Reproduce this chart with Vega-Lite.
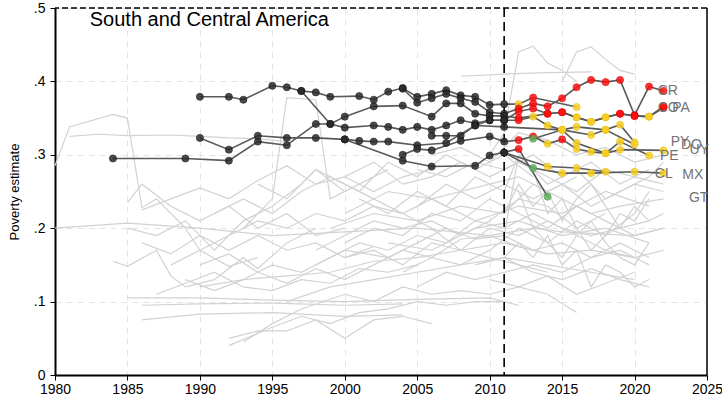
{
  "$schema": "https://vega.github.io/schema/vega-lite/v6.json",
  "width": 652,
  "height": 367,
  "autosize": {"type": "none"},
  "padding": {"left": 55, "top": 8, "right": 15, "bottom": 25},
  "background": "white",
  "config": {
    "view": {"stroke": null},
    "font": "Liberation Sans",
    "axis": {
      "labelFont": "Liberation Sans", "labelFontSize": 14, "labelColor": "black",
      "titleFont": "Liberation Sans", "titleFontWeight": "normal", "titleFontSize": 13, "titleColor": "black",
      "grid": true, "gridColor": "#e4e4e4", "gridDash": [6, 5], "gridWidth": 1,
      "domainColor": "black", "domainWidth": 2, "tickColor": "black", "tickSize": 5, "tickWidth": 1
    }
  },
  "datasets": {
    "grey": [
      {"c":"g1","yr":1980,"v":0.285},{"c":"g1","yr":1981,"v":0.338},{"c":"g1","yr":1984,"v":0.355},{"c":"g1","yr":1985,"v":0.35},{"c":"g1","yr":1986,"v":0.228},{"c":"g1","yr":1987,"v":0.24},{"c":"g1","yr":1989,"v":0.2},{"c":"g1","yr":1990,"v":0.17},{"c":"g1","yr":1992,"v":0.148},{"c":"g1","yr":1994,"v":0.16},
      {"c":"g2","yr":1980,"v":0.2},{"c":"g2","yr":1985,"v":0.207},{"c":"g2","yr":1990,"v":0.2},{"c":"g2","yr":1995,"v":0.19},{"c":"g2","yr":2000,"v":0.195},{"c":"g2","yr":2005,"v":0.2},{"c":"g2","yr":2010,"v":0.19},{"c":"g2","yr":2013,"v":0.2},{"c":"g2","yr":2015,"v":0.195},{"c":"g2","yr":2020,"v":0.19},{"c":"g2","yr":2022,"v":0.2},
      {"c":"g3","yr":1981,"v":0.325},{"c":"g3","yr":1983,"v":0.328},{"c":"g3","yr":1985,"v":0.326},{"c":"g3","yr":1988,"v":0.327},{"c":"g3","yr":1990,"v":0.325},{"c":"g3","yr":1992,"v":0.323},{"c":"g3","yr":1994,"v":0.322},{"c":"g3","yr":1996,"v":0.318},
      {"c":"g4","yr":1984,"v":0.155},{"c":"g4","yr":1985,"v":0.148},{"c":"g4","yr":1987,"v":0.17},{"c":"g4","yr":1988,"v":0.135},{"c":"g4","yr":1989,"v":0.12},{"c":"g4","yr":1991,"v":0.13},{"c":"g4","yr":1993,"v":0.16},{"c":"g4","yr":1994,"v":0.145},{"c":"g4","yr":1996,"v":0.18},{"c":"g4","yr":1998,"v":0.2},
      {"c":"g5","yr":1985,"v":0.2},{"c":"g5","yr":1987,"v":0.19},{"c":"g5","yr":1989,"v":0.21},{"c":"g5","yr":1991,"v":0.17},{"c":"g5","yr":1993,"v":0.21},{"c":"g5","yr":1995,"v":0.23},{"c":"g5","yr":1997,"v":0.26},{"c":"g5","yr":1998,"v":0.28},{"c":"g5","yr":2000,"v":0.25},
      {"c":"g6","yr":1985,"v":0.105},{"c":"g6","yr":1990,"v":0.105},{"c":"g6","yr":1995,"v":0.102},{"c":"g6","yr":2000,"v":0.1},{"c":"g6","yr":2005,"v":0.103},{"c":"g6","yr":2010,"v":0.105},{"c":"g6","yr":2012,"v":0.095},
      {"c":"g7","yr":1986,"v":0.095},{"c":"g7","yr":1990,"v":0.097},{"c":"g7","yr":1995,"v":0.098},{"c":"g7","yr":2000,"v":0.095},{"c":"g7","yr":2004,"v":0.097},
      {"c":"g8","yr":1986,"v":0.075},{"c":"g8","yr":1990,"v":0.083},{"c":"g8","yr":1995,"v":0.085},{"c":"g8","yr":2000,"v":0.08},{"c":"g8","yr":2004,"v":0.082},
      {"c":"g9","yr":1992,"v":0.04},{"c":"g9","yr":1995,"v":0.065},{"c":"g9","yr":1997,"v":0.08},{"c":"g9","yr":1999,"v":0.07},{"c":"g9","yr":2001,"v":0.085},{"c":"g9","yr":2003,"v":0.09},{"c":"g9","yr":2005,"v":0.1},{"c":"g9","yr":2007,"v":0.095},{"c":"g9","yr":2009,"v":0.1},{"c":"g9","yr":2011,"v":0.1},
      {"c":"g10","yr":1992,"v":0.05},{"c":"g10","yr":1994,"v":0.06},{"c":"g10","yr":1996,"v":0.06},{"c":"g10","yr":1998,"v":0.075},{"c":"g10","yr":2000,"v":0.05},{"c":"g10","yr":2002,"v":0.075},{"c":"g10","yr":2004,"v":0.08},{"c":"g10","yr":2006,"v":0.07},
      {"c":"g11","yr":1993,"v":0.045},{"c":"g11","yr":1995,"v":0.07},{"c":"g11","yr":1997,"v":0.09},{"c":"g11","yr":2000,"v":0.11},{"c":"g11","yr":2002,"v":0.1},{"c":"g11","yr":2004,"v":0.12},{"c":"g11","yr":2006,"v":0.11},{"c":"g11","yr":2008,"v":0.115},{"c":"g11","yr":2010,"v":0.11},{"c":"g11","yr":2012,"v":0.12},{"c":"g11","yr":2014,"v":0.11},{"c":"g11","yr":2016,"v":0.085},
      {"c":"g12","yr":1990,"v":0.15},{"c":"g12","yr":1992,"v":0.165},{"c":"g12","yr":1994,"v":0.14},{"c":"g12","yr":1996,"v":0.125},{"c":"g12","yr":1998,"v":0.145},{"c":"g12","yr":2000,"v":0.13},{"c":"g12","yr":2002,"v":0.15},{"c":"g12","yr":2004,"v":0.17},{"c":"g12","yr":2006,"v":0.16},{"c":"g12","yr":2008,"v":0.185},{"c":"g12","yr":2010,"v":0.19},{"c":"g12","yr":2012,"v":0.175},{"c":"g12","yr":2014,"v":0.165},
      {"c":"g13","yr":1986,"v":0.225},{"c":"g13","yr":1988,"v":0.24},{"c":"g13","yr":1990,"v":0.255},{"c":"g13","yr":1992,"v":0.24},{"c":"g13","yr":1994,"v":0.265},{"c":"g13","yr":1996,"v":0.285},{"c":"g13","yr":1998,"v":0.26},{"c":"g13","yr":2000,"v":0.27},{"c":"g13","yr":2002,"v":0.25},{"c":"g13","yr":2004,"v":0.27},{"c":"g13","yr":2006,"v":0.28},
      {"c":"g14","yr":1988,"v":0.15},{"c":"g14","yr":1990,"v":0.17},{"c":"g14","yr":1992,"v":0.19},{"c":"g14","yr":1994,"v":0.21},{"c":"g14","yr":1996,"v":0.2},{"c":"g14","yr":1998,"v":0.22},{"c":"g14","yr":2000,"v":0.21},{"c":"g14","yr":2002,"v":0.23},{"c":"g14","yr":2004,"v":0.22},{"c":"g14","yr":2006,"v":0.24},{"c":"g14","yr":2008,"v":0.25},{"c":"g14","yr":2010,"v":0.26},{"c":"g14","yr":2012,"v":0.27},{"c":"g14","yr":2014,"v":0.25},{"c":"g14","yr":2016,"v":0.27},
      {"c":"g15","yr":1990,"v":0.12},{"c":"g15","yr":1993,"v":0.13},{"c":"g15","yr":1996,"v":0.135},{"c":"g15","yr":1999,"v":0.14},{"c":"g15","yr":2002,"v":0.155},{"c":"g15","yr":2005,"v":0.16},{"c":"g15","yr":2008,"v":0.17},{"c":"g15","yr":2011,"v":0.18},{"c":"g15","yr":2014,"v":0.165},{"c":"g15","yr":2017,"v":0.17},{"c":"g15","yr":2020,"v":0.16},
      {"c":"g16","yr":1993,"v":0.2},{"c":"g16","yr":1995,"v":0.24},{"c":"g16","yr":1996,"v":0.378},{"c":"g16","yr":1998,"v":0.375},{"c":"g16","yr":1999,"v":0.24},{"c":"g16","yr":2001,"v":0.26},{"c":"g16","yr":2003,"v":0.28},
      {"c":"g17","yr":2008,"v":0.407},{"c":"g17","yr":2011,"v":0.41},{"c":"g17","yr":2014,"v":0.412},{"c":"g17","yr":2017,"v":0.413},
      {"c":"g18","yr":2010,"v":0.3},{"c":"g18","yr":2011,"v":0.33},{"c":"g18","yr":2012,"v":0.44},{"c":"g18","yr":2013,"v":0.448},{"c":"g18","yr":2014,"v":0.425},{"c":"g18","yr":2015,"v":0.415},{"c":"g18","yr":2016,"v":0.4},
      {"c":"g19","yr":2015,"v":0.4},{"c":"g19","yr":2016,"v":0.44},{"c":"g19","yr":2017,"v":0.447},{"c":"g19","yr":2018,"v":0.43},{"c":"g19","yr":2019,"v":0.415},{"c":"g19","yr":2020,"v":0.41},
      {"c":"g20","yr":2000,"v":0.18},{"c":"g20","yr":2002,"v":0.2},{"c":"g20","yr":2004,"v":0.19},{"c":"g20","yr":2006,"v":0.22},{"c":"g20","yr":2008,"v":0.21},{"c":"g20","yr":2010,"v":0.24},{"c":"g20","yr":2012,"v":0.22},{"c":"g20","yr":2014,"v":0.2},{"c":"g20","yr":2016,"v":0.23},{"c":"g20","yr":2018,"v":0.21},{"c":"g20","yr":2020,"v":0.19},{"c":"g20","yr":2022,"v":0.2},
      {"c":"g21","yr":1998,"v":0.15},{"c":"g21","yr":2000,"v":0.17},{"c":"g21","yr":2003,"v":0.16},{"c":"g21","yr":2005,"v":0.18},{"c":"g21","yr":2007,"v":0.2},{"c":"g21","yr":2009,"v":0.185},{"c":"g21","yr":2011,"v":0.19},{"c":"g21","yr":2013,"v":0.17},{"c":"g21","yr":2015,"v":0.18},{"c":"g21","yr":2017,"v":0.16},{"c":"g21","yr":2019,"v":0.17},{"c":"g21","yr":2021,"v":0.15},
      {"c":"g22","yr":2001,"v":0.24},{"c":"g22","yr":2003,"v":0.22},{"c":"g22","yr":2005,"v":0.25},{"c":"g22","yr":2007,"v":0.23},{"c":"g22","yr":2009,"v":0.27},{"c":"g22","yr":2011,"v":0.25},{"c":"g22","yr":2012,"v":0.3},{"c":"g22","yr":2014,"v":0.26},{"c":"g22","yr":2016,"v":0.28},{"c":"g22","yr":2018,"v":0.24},{"c":"g22","yr":2020,"v":0.26},{"c":"g22","yr":2022,"v":0.25},
      {"c":"g23","yr":2004,"v":0.14},{"c":"g23","yr":2006,"v":0.16},{"c":"g23","yr":2008,"v":0.15},{"c":"g23","yr":2010,"v":0.17},{"c":"g23","yr":2012,"v":0.2},{"c":"g23","yr":2014,"v":0.18},{"c":"g23","yr":2016,"v":0.21},{"c":"g23","yr":2018,"v":0.19},{"c":"g23","yr":2020,"v":0.22},{"c":"g23","yr":2021,"v":0.25},
      {"c":"g24","yr":1999,"v":0.2},{"c":"g24","yr":2002,"v":0.22},{"c":"g24","yr":2005,"v":0.21},{"c":"g24","yr":2008,"v":0.23},{"c":"g24","yr":2011,"v":0.22},{"c":"g24","yr":2013,"v":0.26},{"c":"g24","yr":2015,"v":0.24},{"c":"g24","yr":2017,"v":0.22},{"c":"g24","yr":2019,"v":0.23},{"c":"g24","yr":2022,"v":0.24},
      {"c":"g25","yr":2005,"v":0.28},{"c":"g25","yr":2007,"v":0.27},{"c":"g25","yr":2009,"v":0.29},{"c":"g25","yr":2011,"v":0.28},{"c":"g25","yr":2013,"v":0.3},{"c":"g25","yr":2015,"v":0.27},{"c":"g25","yr":2017,"v":0.29},{"c":"g25","yr":2019,"v":0.26},{"c":"g25","yr":2021,"v":0.28},
      {"c":"g26","yr":2009,"v":0.15},{"c":"g26","yr":2011,"v":0.16},{"c":"g26","yr":2013,"v":0.14},{"c":"g26","yr":2015,"v":0.13},{"c":"g26","yr":2017,"v":0.145},{"c":"g26","yr":2019,"v":0.13},{"c":"g26","yr":2021,"v":0.12},
      {"c":"g27","yr":2010,"v":0.13},{"c":"g27","yr":2012,"v":0.12},{"c":"g27","yr":2014,"v":0.135},{"c":"g27","yr":2016,"v":0.11},{"c":"g27","yr":2018,"v":0.125},{"c":"g27","yr":2020,"v":0.14},
      {"c":"g28","yr":2003,"v":0.18},{"c":"g28","yr":2006,"v":0.17},{"c":"g28","yr":2009,"v":0.2},{"c":"g28","yr":2012,"v":0.21},{"c":"g28","yr":2015,"v":0.19},{"c":"g28","yr":2018,"v":0.2},{"c":"g28","yr":2021,"v":0.18},
      {"c":"g29","yr":1996,"v":0.1},{"c":"g29","yr":1999,"v":0.12},{"c":"g29","yr":2002,"v":0.13},{"c":"g29","yr":2005,"v":0.14},{"c":"g29","yr":2008,"v":0.15},{"c":"g29","yr":2011,"v":0.16},{"c":"g29","yr":2014,"v":0.15},{"c":"g29","yr":2017,"v":0.14},{"c":"g29","yr":2020,"v":0.13},
      {"c":"g30","yr":2000,"v":0.22},{"c":"g30","yr":2003,"v":0.25},{"c":"g30","yr":2006,"v":0.24},{"c":"g30","yr":2009,"v":0.21},{"c":"g30","yr":2012,"v":0.23},{"c":"g30","yr":2015,"v":0.22},{"c":"g30","yr":2018,"v":0.25},{"c":"g30","yr":2021,"v":0.23},
      {"c":"g31","yr":1994,"v":0.26},{"c":"g31","yr":1996,"v":0.24},{"c":"g31","yr":1998,"v":0.28},{"c":"g31","yr":2000,"v":0.26},{"c":"g31","yr":2002,"v":0.24},{"c":"g31","yr":2004,"v":0.22},{"c":"g31","yr":2006,"v":0.2},{"c":"g31","yr":2008,"v":0.17},{"c":"g31","yr":2010,"v":0.16},{"c":"g31","yr":2012,"v":0.15},{"c":"g31","yr":2014,"v":0.14},
      {"c":"g32","yr":1991,"v":0.22},{"c":"g32","yr":1993,"v":0.24},{"c":"g32","yr":1995,"v":0.22},{"c":"g32","yr":1997,"v":0.25},{"c":"g32","yr":1999,"v":0.27},{"c":"g32","yr":2001,"v":0.25},{"c":"g32","yr":2003,"v":0.29},{"c":"g32","yr":2005,"v":0.27},{"c":"g32","yr":2007,"v":0.3},{"c":"g32","yr":2009,"v":0.28},{"c":"g32","yr":2011,"v":0.3},{"c":"g32","yr":2013,"v":0.27},
      {"c":"g33","yr":2006,"v":0.3},{"c":"g33","yr":2008,"v":0.31},{"c":"g33","yr":2010,"v":0.29},{"c":"g33","yr":2012,"v":0.33},{"c":"g33","yr":2014,"v":0.32},{"c":"g33","yr":2016,"v":0.3},{"c":"g33","yr":2018,"v":0.31},{"c":"g33","yr":2020,"v":0.29},{"c":"g33","yr":2022,"v":0.3},
      {"c":"g34","yr":2012,"v":0.25},{"c":"g34","yr":2013,"v":0.2},{"c":"g34","yr":2014,"v":0.18},{"c":"g34","yr":2015,"v":0.16},{"c":"g34","yr":2016,"v":0.19},{"c":"g34","yr":2017,"v":0.21},{"c":"g34","yr":2018,"v":0.18},{"c":"g34","yr":2019,"v":0.16},{"c":"g34","yr":2020,"v":0.15},{"c":"g34","yr":2021,"v":0.18},
      {"c":"g35","yr":1987,"v":0.11},{"c":"g35","yr":1989,"v":0.125},{"c":"g35","yr":1991,"v":0.14},{"c":"g35","yr":1993,"v":0.12},{"c":"g35","yr":1995,"v":0.115},{"c":"g35","yr":1997,"v":0.13},{"c":"g35","yr":1999,"v":0.125},{"c":"g35","yr":2001,"v":0.145},{"c":"g35","yr":2003,"v":0.14},{"c":"g35","yr":2005,"v":0.15},
      {"c":"g36","yr":2011,"v":0.19},{"c":"g36","yr":2012,"v":0.3},{"c":"g36","yr":2013,"v":0.28},{"c":"g36","yr":2014,"v":0.22},{"c":"g36","yr":2015,"v":0.24},{"c":"g36","yr":2016,"v":0.2},{"c":"g36","yr":2017,"v":0.17},{"c":"g36","yr":2018,"v":0.19},{"c":"g36","yr":2019,"v":0.22},{"c":"g36","yr":2020,"v":0.21},{"c":"g36","yr":2021,"v":0.24},
      {"c":"g37","yr":2000,"v":0.16},{"c":"g37","yr":2002,"v":0.17},{"c":"g37","yr":2004,"v":0.15},{"c":"g37","yr":2006,"v":0.18},{"c":"g37","yr":2008,"v":0.17},{"c":"g37","yr":2010,"v":0.2},{"c":"g37","yr":2012,"v":0.19},{"c":"g37","yr":2014,"v":0.21},{"c":"g37","yr":2016,"v":0.19},{"c":"g37","yr":2018,"v":0.17},{"c":"g37","yr":2020,"v":0.16},{"c":"g37","yr":2022,"v":0.17},
      {"c":"g38","yr":2005,"v":0.23},{"c":"g38","yr":2007,"v":0.26},{"c":"g38","yr":2009,"v":0.24},{"c":"g38","yr":2011,"v":0.26},{"c":"g38","yr":2013,"v":0.24},{"c":"g38","yr":2015,"v":0.26},{"c":"g38","yr":2017,"v":0.23},{"c":"g38","yr":2019,"v":0.25},{"c":"g38","yr":2021,"v":0.27},{"c":"g38","yr":2022,"v":0.29},
      {"c":"g39","yr":1985,"v":0.235},{"c":"g39","yr":1986,"v":0.26},{"c":"g39","yr":1988,"v":0.23},{"c":"g39","yr":1990,"v":0.21},{"c":"g39","yr":1992,"v":0.23},{"c":"g39","yr":1994,"v":0.2},{"c":"g39","yr":1996,"v":0.22},{"c":"g39","yr":1998,"v":0.19},{"c":"g39","yr":2000,"v":0.2},
      {"c":"g40","yr":1986,"v":0.18},{"c":"g40","yr":1988,"v":0.165},{"c":"g40","yr":1990,"v":0.19},{"c":"g40","yr":1992,"v":0.17},{"c":"g40","yr":1994,"v":0.19},{"c":"g40","yr":1996,"v":0.17},{"c":"g40","yr":1998,"v":0.18},{"c":"g40","yr":2000,"v":0.16},{"c":"g40","yr":2002,"v":0.175},
      {"c":"g41","yr":1989,"v":0.13},{"c":"g41","yr":1991,"v":0.115},{"c":"g41","yr":1993,"v":0.13},{"c":"g41","yr":1995,"v":0.15},{"c":"g41","yr":1997,"v":0.14},{"c":"g41","yr":1999,"v":0.16},{"c":"g41","yr":2001,"v":0.18},{"c":"g41","yr":2003,"v":0.17},{"c":"g41","yr":2005,"v":0.19},{"c":"g41","yr":2007,"v":0.18},{"c":"g41","yr":2009,"v":0.21},{"c":"g41","yr":2011,"v":0.2},{"c":"g41","yr":2013,"v":0.22},{"c":"g41","yr":2015,"v":0.2},{"c":"g41","yr":2017,"v":0.19},{"c":"g41","yr":2019,"v":0.2},{"c":"g41","yr":2021,"v":0.21},
      {"c":"g42","yr":2011,"v":0.22},{"c":"g42","yr":2012,"v":0.26},{"c":"g42","yr":2013,"v":0.23},{"c":"g42","yr":2014,"v":0.25},{"c":"g42","yr":2015,"v":0.21},{"c":"g42","yr":2016,"v":0.24},{"c":"g42","yr":2017,"v":0.26},{"c":"g42","yr":2018,"v":0.23},{"c":"g42","yr":2019,"v":0.2},{"c":"g42","yr":2020,"v":0.23},{"c":"g42","yr":2021,"v":0.21},{"c":"g42","yr":2022,"v":0.22},
      {"c":"g43","yr":2011,"v":0.16},{"c":"g43","yr":2012,"v":0.18},{"c":"g43","yr":2013,"v":0.16},{"c":"g43","yr":2014,"v":0.19},{"c":"g43","yr":2015,"v":0.15},{"c":"g43","yr":2016,"v":0.17},{"c":"g43","yr":2017,"v":0.12},{"c":"g43","yr":2018,"v":0.15},{"c":"g43","yr":2019,"v":0.14},{"c":"g43","yr":2020,"v":0.12},{"c":"g43","yr":2021,"v":0.13},
      {"c":"g44","yr":2000,"v":0.27},{"c":"g44","yr":2002,"v":0.29},{"c":"g44","yr":2004,"v":0.26},{"c":"g44","yr":2006,"v":0.27},{"c":"g44","yr":2008,"v":0.29},{"c":"g44","yr":2010,"v":0.27},{"c":"g44","yr":2012,"v":0.29},{"c":"g44","yr":2014,"v":0.27},{"c":"g44","yr":2016,"v":0.25},{"c":"g44","yr":2018,"v":0.28},{"c":"g44","yr":2020,"v":0.27},{"c":"g44","yr":2022,"v":0.26},
      {"c":"g45","yr":1998,"v":0.17},{"c":"g45","yr":2000,"v":0.19},{"c":"g45","yr":2002,"v":0.21},{"c":"g45","yr":2004,"v":0.2},{"c":"g45","yr":2006,"v":0.21},{"c":"g45","yr":2008,"v":0.19},{"c":"g45","yr":2010,"v":0.21},{"c":"g45","yr":2012,"v":0.24},{"c":"g45","yr":2014,"v":0.23},{"c":"g45","yr":2016,"v":0.2},{"c":"g45","yr":2018,"v":0.22},
      {"c":"g46","yr":2005,"v":0.12},{"c":"g46","yr":2007,"v":0.14},{"c":"g46","yr":2009,"v":0.13},{"c":"g46","yr":2011,"v":0.14},{"c":"g46","yr":2013,"v":0.15},{"c":"g46","yr":2015,"v":0.14},{"c":"g46","yr":2017,"v":0.16},{"c":"g46","yr":2019,"v":0.18},{"c":"g46","yr":2021,"v":0.16}
    ],
    "hl": [
      {"c":"HN","yr":1990,"v":0.379,"s":"old"},{"c":"HN","yr":1992,"v":0.379,"s":"old"},{"c":"HN","yr":1993,"v":0.375,"s":"old"},{"c":"HN","yr":1995,"v":0.394,"s":"old"},{"c":"HN","yr":1996,"v":0.392,"s":"old"},{"c":"HN","yr":1997,"v":0.387,"s":"old"},{"c":"HN","yr":1998,"v":0.385,"s":"old"},{"c":"HN","yr":1999,"v":0.379,"s":"old"},{"c":"HN","yr":2001,"v":0.38,"s":"old"},{"c":"HN","yr":2002,"v":0.375,"s":"old"},{"c":"HN","yr":2003,"v":0.386,"s":"old"},{"c":"HN","yr":2004,"v":0.391,"s":"old"},{"c":"HN","yr":2005,"v":0.379,"s":"old"},{"c":"HN","yr":2006,"v":0.383,"s":"old"},{"c":"HN","yr":2007,"v":0.388,"s":"old"},{"c":"HN","yr":2008,"v":0.381,"s":"old"},{"c":"HN","yr":2009,"v":0.379,"s":"old"},{"c":"HN","yr":2010,"v":0.368,"s":"old"},{"c":"HN","yr":2011,"v":0.369,"s":"old"},{"c":"HN","yr":2012,"v":0.369,"s":"s2"},{"c":"HN","yr":2013,"v":0.378,"s":"s1"},{"c":"HN","yr":2016,"v":0.365,"s":"s2"},
      {"c":"CR","yr":2004,"v":0.39,"s":"old"},{"c":"CR","yr":2005,"v":0.371,"s":"old"},{"c":"CR","yr":2006,"v":0.377,"s":"old"},{"c":"CR","yr":2007,"v":0.383,"s":"old"},{"c":"CR","yr":2008,"v":0.377,"s":"old"},{"c":"CR","yr":2009,"v":0.372,"s":"old"},{"c":"CR","yr":2010,"v":0.358,"s":"old"},{"c":"CR","yr":2011,"v":0.356,"s":"old"},{"c":"CR","yr":2012,"v":0.363,"s":"s1"},{"c":"CR","yr":2013,"v":0.37,"s":"s1"},{"c":"CR","yr":2014,"v":0.366,"s":"s1"},{"c":"CR","yr":2015,"v":0.377,"s":"s1"},{"c":"CR","yr":2016,"v":0.392,"s":"s1"},{"c":"CR","yr":2017,"v":0.402,"s":"s1"},{"c":"CR","yr":2018,"v":0.399,"s":"s1"},{"c":"CR","yr":2019,"v":0.402,"s":"s1"},{"c":"CR","yr":2020,"v":0.354,"s":"s1"},{"c":"CR","yr":2021,"v":0.393,"s":"s1"},{"c":"CR","yr":2022,"v":0.387,"s":"s1"},
      {"c":"PA","yr":1997,"v":0.387,"s":"old"},{"c":"PA","yr":1999,"v":0.342,"s":"old"},{"c":"PA","yr":2000,"v":0.352,"s":"old"},{"c":"PA","yr":2002,"v":0.366,"s":"old"},{"c":"PA","yr":2004,"v":0.367,"s":"old"},{"c":"PA","yr":2006,"v":0.352,"s":"old"},{"c":"PA","yr":2007,"v":0.37,"s":"old"},{"c":"PA","yr":2008,"v":0.37,"s":"old"},{"c":"PA","yr":2009,"v":0.356,"s":"old"},{"c":"PA","yr":2010,"v":0.353,"s":"old"},{"c":"PA","yr":2011,"v":0.353,"s":"old"},{"c":"PA","yr":2012,"v":0.35,"s":"s1"},{"c":"PA","yr":2014,"v":0.356,"s":"s1"},{"c":"PA","yr":2015,"v":0.358,"s":"s1"},{"c":"PA","yr":2016,"v":0.351,"s":"s2"},{"c":"PA","yr":2017,"v":0.345,"s":"s2"},{"c":"PA","yr":2018,"v":0.351,"s":"s2"},{"c":"PA","yr":2019,"v":0.356,"s":"s1"},{"c":"PA","yr":2020,"v":0.353,"s":"s1"},{"c":"PA","yr":2021,"v":0.352,"s":"s2"},{"c":"PA","yr":2022,"v":0.364,"s":"s1"},
      {"c":"CO","yr":1984,"v":0.295,"s":"old"},{"c":"CO","yr":1989,"v":0.295,"s":"old"},{"c":"CO","yr":1992,"v":0.292,"s":"old"},{"c":"CO","yr":1994,"v":0.318,"s":"old"},{"c":"CO","yr":1996,"v":0.313,"s":"old"},{"c":"CO","yr":1998,"v":0.342,"s":"old"},{"c":"CO","yr":1999,"v":0.342,"s":"old"},{"c":"CO","yr":2000,"v":0.337,"s":"old"},{"c":"CO","yr":2002,"v":0.34,"s":"old"},{"c":"CO","yr":2003,"v":0.338,"s":"old"},{"c":"CO","yr":2004,"v":0.334,"s":"old"},{"c":"CO","yr":2005,"v":0.338,"s":"old"},{"c":"CO","yr":2006,"v":0.334,"s":"old"},{"c":"CO","yr":2007,"v":0.34,"s":"old"},{"c":"CO","yr":2008,"v":0.347,"s":"old"},{"c":"CO","yr":2009,"v":0.343,"s":"old"},{"c":"CO","yr":2010,"v":0.347,"s":"old"},{"c":"CO","yr":2011,"v":0.347,"s":"old"},{"c":"CO","yr":2012,"v":0.359,"s":"s1"},{"c":"CO","yr":2013,"v":0.363,"s":"s1"},{"c":"CO","yr":2014,"v":0.356,"s":"s1"},{"c":"CO","yr":2015,"v":0.358,"s":"s1"},{"c":"CO","yr":2016,"v":0.351,"s":"s2"},{"c":"CO","yr":2017,"v":0.345,"s":"s2"},{"c":"CO","yr":2018,"v":0.351,"s":"s2"},{"c":"CO","yr":2019,"v":0.356,"s":"s1"},{"c":"CO","yr":2020,"v":0.353,"s":"s1"},{"c":"CO","yr":2021,"v":0.352,"s":"s2"},{"c":"CO","yr":2022,"v":0.366,"s":"s1"},
      {"c":"DO","yr":1990,"v":0.323,"s":"old"},{"c":"DO","yr":1992,"v":0.307,"s":"old"},{"c":"DO","yr":1994,"v":0.326,"s":"old"},{"c":"DO","yr":1996,"v":0.323,"s":"old"},{"c":"DO","yr":1998,"v":0.323,"s":"old"},{"c":"DO","yr":2000,"v":0.321,"s":"old"},{"c":"DO","yr":2001,"v":0.319,"s":"old"},{"c":"DO","yr":2002,"v":0.318,"s":"old"},{"c":"DO","yr":2003,"v":0.318,"s":"old"},{"c":"DO","yr":2005,"v":0.313,"s":"old"},{"c":"DO","yr":2007,"v":0.316,"s":"old"},{"c":"DO","yr":2009,"v":0.34,"s":"old"},{"c":"DO","yr":2011,"v":0.338,"s":"old"},{"c":"DO","yr":2015,"v":0.334,"s":"s2"},{"c":"DO","yr":2017,"v":0.327,"s":"s2"},{"c":"DO","yr":2018,"v":0.334,"s":"s2"},{"c":"DO","yr":2020,"v":0.314,"s":"s2"},
      {"c":"PY","yr":2006,"v":0.326,"s":"old"},{"c":"PY","yr":2007,"v":0.326,"s":"old"},{"c":"PY","yr":2008,"v":0.326,"s":"old"},{"c":"PY","yr":2009,"v":0.34,"s":"old"},{"c":"PY","yr":2010,"v":0.347,"s":"old"},{"c":"PY","yr":2011,"v":0.347,"s":"old"},{"c":"PY","yr":2012,"v":0.347,"s":"s1"},{"c":"PY","yr":2013,"v":0.352,"s":"s2"},{"c":"PY","yr":2014,"v":0.34,"s":"s2"},{"c":"PY","yr":2015,"v":0.334,"s":"s2"},{"c":"PY","yr":2016,"v":0.338,"s":"s2"},{"c":"PY","yr":2018,"v":0.334,"s":"s2"},{"c":"PY","yr":2019,"v":0.341,"s":"s2"},{"c":"PY","yr":2020,"v":0.317,"s":"s2"},
      {"c":"PE","yr":2004,"v":0.3,"s":"old"},{"c":"PE","yr":2005,"v":0.308,"s":"old"},{"c":"PE","yr":2006,"v":0.306,"s":"old"},{"c":"PE","yr":2008,"v":0.319,"s":"old"},{"c":"PE","yr":2010,"v":0.325,"s":"old"},{"c":"PE","yr":2011,"v":0.318,"s":"old"},{"c":"PE","yr":2012,"v":0.32,"s":"s1"},{"c":"PE","yr":2013,"v":0.325,"s":"s1"},{"c":"PE","yr":2014,"v":0.315,"s":"s2"},{"c":"PE","yr":2015,"v":0.321,"s":"s1"},{"c":"PE","yr":2016,"v":0.308,"s":"s2"},{"c":"PE","yr":2017,"v":0.304,"s":"s2"},{"c":"PE","yr":2018,"v":0.302,"s":"s2"},{"c":"PE","yr":2019,"v":0.318,"s":"s2"},{"c":"PE","yr":2021,"v":0.299,"s":"s2"},
      {"c":"UY","yr":2013,"v":0.322,"s":"s3"},{"c":"UY","yr":2015,"v":0.334,"s":"s2"},{"c":"UY","yr":2016,"v":0.316,"s":"s2"},{"c":"UY","yr":2018,"v":0.302,"s":"s2"},{"c":"UY","yr":2019,"v":0.307,"s":"s2"},{"c":"UY","yr":2022,"v":0.306,"s":"s2"},
      {"c":"GT","yr":2000,"v":0.321,"s":"old"},{"c":"GT","yr":2004,"v":0.292,"s":"old"},{"c":"GT","yr":2006,"v":0.284,"s":"old"},{"c":"GT","yr":2009,"v":0.285,"s":"old"},{"c":"GT","yr":2010,"v":0.299,"s":"old"},{"c":"GT","yr":2012,"v":0.308,"s":"s1"},{"c":"GT","yr":2014,"v":0.243,"s":"s3"},
      {"c":"MX","yr":2011,"v":0.303,"s":"old"},{"c":"MX","yr":2014,"v":0.284,"s":"s2"},{"c":"MX","yr":2016,"v":0.282,"s":"s2"},{"c":"MX","yr":2018,"v":0.277,"s":"s2"},
      {"c":"CL","yr":2011,"v":0.303,"s":"old"},{"c":"CL","yr":2013,"v":0.282,"s":"s3"},{"c":"CL","yr":2015,"v":0.275,"s":"s2"},{"c":"CL","yr":2017,"v":0.275,"s":"s2"},{"c":"CL","yr":2020,"v":0.277,"s":"s2"},{"c":"CL","yr":2022,"v":0.275,"s":"s2"}
    ],
    "labels": [
      {"c":"CR","yr":2021.6,"v":0.387},{"c":"CO","yr":2021.6,"v":0.364},{"c":"PA","yr":2022.6,"v":0.364},
      {"c":"PY","yr":2022.5,"v":0.318},{"c":"DO","yr":2023.2,"v":0.314},{"c":"UY","yr":2023.8,"v":0.307},
      {"c":"PE","yr":2021.75,"v":0.299},{"c":"CL","yr":2021.4,"v":0.274},{"c":"MX","yr":2023.3,"v":0.273},{"c":"GT","yr":2023.75,"v":0.241}
    ],
    "cut": [{"yr": 2011}],
    "frame": [{"yr": 2025, "v": 0.5}],
    "ttl": [{"yr": 1982.4, "v": 0.484, "txt": "South and Central America"}]
  },
  "encoding": {
    "x": {"field": "yr", "type": "quantitative", "scale": {"domain": [1980, 2025], "nice": false, "zero": false},
          "axis": {"values": [1980,1985,1990,1995,2000,2005,2010,2015,2020,2025], "format": "d", "title": null, "labelPadding": 2, "labelFlush": false}},
    "y": {"field": "v", "type": "quantitative", "scale": {"domain": [0, 0.5], "nice": false},
          "axis": {"values": [0,0.1,0.2,0.3,0.4,0.5], "labelExpr": "datum.value == 0 ? '0' : replace(format(datum.value, '.1f'), '0.', '.')", "title": "Poverty estimate", "titlePadding": 12, "labelPadding": 5}}
  },
  "layer": [
    {"data": {"name": "grey"}, "mark": {"type": "line", "color": "#d2d2d2", "strokeWidth": 1.2}, "encoding": {"detail": {"field": "c"}}},
    {"data": {"name": "cut"}, "mark": {"type": "rule", "color": "black", "strokeWidth": 1.6, "strokeDash": [9, 5]}, "encoding": {"x": {"field": "yr", "type": "quantitative"}, "y": null}},
    {"data": {"name": "frame"}, "mark": {"type": "rule", "color": "black", "strokeWidth": 1.5}, "encoding": {"x": {"field": "yr", "type": "quantitative"}, "y": null}},
    {"data": {"name": "frame"}, "mark": {"type": "rule", "color": "black", "strokeWidth": 1.5, "strokeDash": [6, 3]}, "encoding": {"y": {"field": "v", "type": "quantitative"}, "x": null}},
    {"data": {"name": "hl"}, "mark": {"type": "line", "color": "#5a5a5a", "strokeWidth": 1.6}, "encoding": {"detail": {"field": "c"}}},
    {"data": {"name": "hl"}, "mark": {"type": "point", "filled": true, "size": 50, "opacity": 0.85, "strokeWidth": 0.8},
     "encoding": {
       "color": {"field": "s", "type": "nominal", "scale": {"domain": ["old","s1","s2","s3"], "range": ["#2a2a2a","#ff1010","#f9cf1e","#5cb35c"]}, "legend": null},
       "stroke": {"field": "s", "type": "nominal", "scale": {"domain": ["old","s1","s2","s3"], "range": ["#111111","#e00000","#e8c21a","#4a9a4a"]}, "legend": null}
     }},
    {"data": {"name": "labels"}, "mark": {"type": "text", "align": "left", "baseline": "middle", "fontSize": 14, "color": "#737373", "font": "Liberation Sans"},
     "encoding": {"text": {"field": "c"}}},
    {"data": {"name": "ttl"}, "mark": {"type": "text", "align": "left", "baseline": "middle", "fontSize": 20, "color": "black", "font": "Liberation Sans"},
     "encoding": {"text": {"field": "txt"}}}
  ]
}
